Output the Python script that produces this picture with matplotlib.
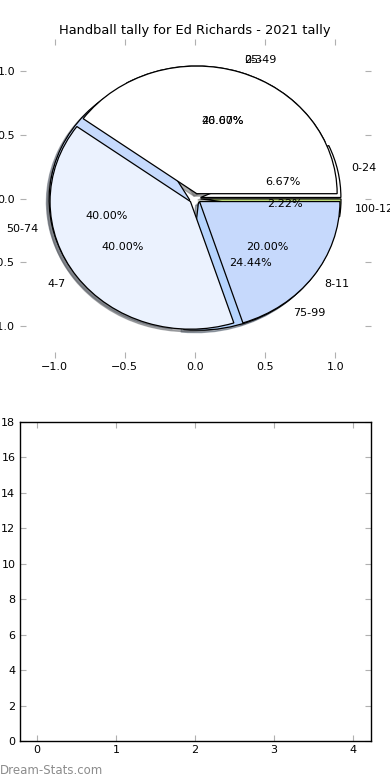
import matplotlib
matplotlib.use('Agg')
import matplotlib.pyplot as plt

# score ranges (pie A)
score_labels = ['0-24', '25-49', '50-74', '75-99', '100-124']
score_counts = [3, 12, 18, 11, 1]
score_colors = ['#ffffff', '#ffffff', '#c6dafd', '#b6d4fd', '#c9e87e']

# goal ranges (pie B)
goal_labels = ['0-3', '4-7', '8-11']
goal_counts = [18, 18, 9]
goal_colors = ['#ffffff', '#ebf2fe', '#c6d9fc']

# bottom chart (empty)
bar_x = [0, 1, 2, 3, 4]
bar_vals = [0, 0, 0, 0, 0]


def style_ticks(ax):
	ax.tick_params(direction='in', length=4, color='#b0b0b0', labelsize=8,
				   top=True, right=True, pad=3)


def main():
	fig = plt.figure(figsize=(3.9, 7.8), dpi=100)
	fig.subplots_adjust(left=0.05, right=0.95, bottom=0.05, top=0.95, hspace=0.2)

	ax1 = fig.add_subplot(2, 1, 1)
	wp = dict(edgecolor='black', linewidth=0.9)
	shad = dict(ox=-0.014, oy=-0.014, shade=0.6)
	ax1.pie(score_counts, labels=score_labels, colors=score_colors,
			explode=[0.04] * len(score_counts),
			autopct='%.2f%%', shadow=shad, frame=True, wedgeprops=wp,
			textprops=dict(fontsize=8))
	ax1.pie(goal_counts, labels=goal_labels, colors=goal_colors,
			explode=[0.04] * len(goal_counts),
			autopct='%.2f%%', shadow=shad, frame=True, wedgeprops=wp,
			textprops=dict(fontsize=8))
	ax1.set_aspect('auto')
	ax1.set_xlim(-1.25, 1.25)
	ax1.set_ylim(-1.25, 1.25)
	ax1.set_xticks([-1.0, -0.5, 0.0, 0.5, 1.0])
	ax1.set_yticks([-1.0, -0.5, 0.0, 0.5, 1.0])
	ax1.set_frame_on(False)
	style_ticks(ax1)
	ax1.set_title('Handball tally for Ed Richards - 2021 tally', fontsize=9.4, pad=3.5)

	ax2 = fig.add_subplot(2, 1, 2)
	ax2.bar(bar_x, bar_vals, width=0.4)
	ax2.set_xlim(-0.22, 4.22)
	ax2.set_ylim(0, 18)
	ax2.set_xticks(bar_x)
	ax2.set_yticks(range(0, 19, 2))
	style_ticks(ax2)
	for s in ax2.spines.values():
		s.set_linewidth(1.0)

	fig.text(0.0, 0.008, 'Dream-Stats.com', color='#8c8c8c', fontsize=8.5)

	fig.savefig('out.png', dpi=100)


if __name__ == '__main__':
	main()
